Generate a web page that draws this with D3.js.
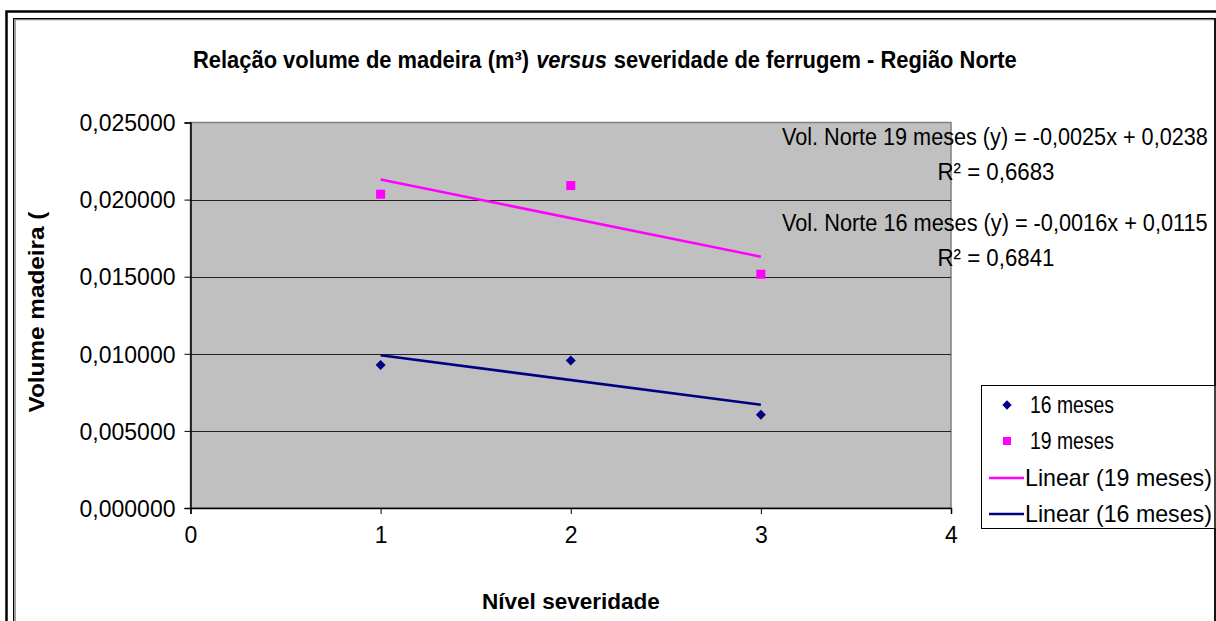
<!DOCTYPE html>
<html>
<head>
<meta charset="utf-8">
<script src="https://cdn.jsdelivr.net/npm/d3@7"></script>
<style>
  html, body { margin: 0; padding: 0; background: #fff; }
  svg { display: block; font-family: "Liberation Sans", Arial, sans-serif; }
</style>
</head>
<body>
<svg id="chart" width="1216" height="621"></svg>
<script>
// Severity levels and wood volume (m³) per age group
const severityLevels = [1, 2, 3];
const volume16 = [0.00928, 0.00956, 0.00605];
const volume19 = [0.02035, 0.02091, 0.01516];

// Linear trend coefficients [slope, intercept] and R²
const trend19 = [-0.0025, 0.0238];
const trend16 = [-0.0016, 0.0115];
const r2_19 = 0.6683;
const r2_16 = 0.6841;

const xTicks = [0, 1, 2, 3, 4];
const yTicks = [0, 0.005, 0.010, 0.015, 0.020, 0.025];
const legendLabels = ["16 meses", "19 meses", "Linear (19 meses)", "Linear (16 meses)"];
const titleParts = [
  { text: "Relação volume de madeira (m³)", italic: false },
  { text: "versus", italic: true },
  { text: "severidade de ferrugem - Região Norte", italic: false }
];

const PINK = "#FF00FF", NAVY = "#000080";
const svg = d3.select("#chart");

// Places a text so that it spans `width` px, narrowing the glyphs horizontally.
// anchor: "start" | "middle"; extra: rotation in degrees.
function fitText(parent, str, px, py, width, opts = {}) {
  const g = parent.append("g");
  const t = g.append("text").attr("x", 0).attr("y", 0)
    .attr("font-size", opts.size || 22)
    .attr("font-weight", opts.bold ? "bold" : "normal")
    .attr("font-style", opts.italic ? "italic" : "normal")
    .attr("fill", "#000").text(str);
  const w = t.node().getComputedTextLength();
  const k = width / w;
  if (opts.anchor === "middle") t.attr("x", -w / 2);
  g.attr("transform", `translate(${px},${py})${opts.rotate ? ` rotate(${opts.rotate})` : ""} scale(${k},1)`);
  return g;
}

// frames
svg.append("rect").attr("x", 6.5).attr("y", 11.5).attr("width", 1240).attr("height", 640)
  .attr("fill", "none").attr("stroke", "#000").attr("stroke-width", 2.5);
svg.append("rect").attr("x", 15).attr("y", 19.5).attr("width", 1200).attr("height", 640)
  .attr("fill", "none").attr("stroke", "#808080").attr("stroke-width", 1.5);
svg.append("rect").attr("x", 13.5).attr("y", 18.5).attr("width", 1201.5).attr("height", 640)
  .attr("fill", "none").attr("stroke", "#000").attr("stroke-width", 1);

const x = d3.scaleLinear().domain([0, 4]).range([190.5, 951]);
const y = d3.scaleLinear().domain([0, 0.025]).range([508, 122.5]);

// plot area
svg.append("rect").attr("x", x(0)).attr("y", y(0.025))
  .attr("width", x(4) - x(0)).attr("height", y(0) - y(0.025))
  .attr("fill", "#C0C0C0").attr("stroke", "#808080").attr("stroke-width", 1.5);

// gridlines
svg.append("g").selectAll("line").data(yTicks.filter(d => d > 0 && d < 0.025)).join("line")
  .attr("x1", x(0)).attr("x2", x(4))
  .attr("y1", d => Math.round(y(d)) + 0.5).attr("y2", d => Math.round(y(d)) + 0.5)
  .attr("stroke", "#222").attr("stroke-width", 1.2);

const fmt = d => d3.format(".6f")(d).replace(".", ",");

// y axis
const yAxis = svg.append("g").attr("transform", `translate(${x(0)},0)`)
  .call(d3.axisLeft(y).tickValues(yTicks).tickSize(6).tickPadding(9).tickFormat(fmt));
yAxis.select(".domain").attr("stroke", "#000").attr("stroke-width", 1.5);
yAxis.selectAll(".tick line").attr("stroke", "#000");
yAxis.selectAll("text").attr("font-size", 23).attr("fill", "#000")
  .attr("font-family", "Liberation Sans, Arial").attr("dy", "0.36em");

// x axis
const xAxis = svg.append("g").attr("transform", `translate(0,${y(0)})`)
  .call(d3.axisBottom(x).tickValues(xTicks).tickSize(6).tickPadding(13).tickFormat(d3.format("d")));
xAxis.select(".domain").attr("stroke", "#000").attr("stroke-width", 1.5);
xAxis.selectAll(".tick line").attr("stroke", "#000");
xAxis.selectAll("text").attr("font-size", 23).attr("fill", "#000")
  .attr("font-family", "Liberation Sans, Arial");

// trend lines
const trendLine = (coef, color) => {
  const pts = [severityLevels[0], severityLevels[severityLevels.length - 1]]
    .map(v => [x(v), y(coef[0] * v + coef[1])]);
  svg.append("path").attr("d", d3.line()(pts))
    .attr("stroke", color).attr("stroke-width", 2.5).attr("fill", "none");
};
trendLine(trend19, PINK);
trendLine(trend16, NAVY);

// markers
const diamond = d3.symbol().type(d3.symbolDiamond2).size(64);
svg.append("g").selectAll("path").data(severityLevels).join("path")
  .attr("d", diamond)
  .attr("transform", (d, i) => `translate(${x(d)},${y(volume16[i])})`)
  .attr("fill", NAVY);
svg.append("g").selectAll("rect").data(severityLevels).join("rect")
  .attr("x", d => x(d) - 4.5).attr("y", (d, i) => y(volume19[i]) - 4.5)
  .attr("width", 9).attr("height", 9).attr("fill", PINK);

// trend equations
const num = v => d3.format(".4f")(Math.abs(v)).replace(".", ",");
const eqText = (name, c) =>
  `Vol. Norte ${name} (y) = ${c[0] < 0 ? "-" : ""}${num(c[0])}x + ${num(c[1])}`;
const eqs = [
  { eq: eqText("19 meses", trend19), r2: r2_19, y: 145 },
  { eq: eqText("16 meses", trend16), r2: r2_16, y: 231 }
];
eqs.forEach(e => {
  fitText(svg, e.eq, 995, e.y, 426, { size: 24, anchor: "middle" });
  fitText(svg, "R² = " + d3.format(".4f")(e.r2).replace(".", ","), 996, e.y + 35, 117,
    { size: 24, anchor: "middle" });
});

// title: parts laid out side by side, condensed to fit the title width
const titleLeft = 193, titleWidth = 824, titleGap = 7;
const probe = titleParts.map(p => {
  const t = svg.append("text").attr("font-size", 23).attr("font-weight", "bold")
    .attr("font-style", p.italic ? "italic" : "normal").text(p.text);
  const w = t.node().getComputedTextLength();
  t.remove();
  return w;
});
const k = (titleWidth - titleGap * (titleParts.length - 1)) / d3.sum(probe);
let cx = titleLeft;
titleParts.forEach((p, i) => {
  const w = probe[i] * k;
  fitText(svg, p.text, cx, 68, w, { size: 23, bold: true, italic: p.italic });
  cx += w + titleGap;
});

// axis titles
fitText(svg, "Nível severidade", 571, 609, 178, { size: 22, bold: true, anchor: "middle" });
fitText(svg, "Volume madeira (", 44, 312, 201, { size: 22, bold: true, anchor: "middle", rotate: -90 });

// legend
const lg = svg.append("g");
lg.append("rect").attr("x", 981.5).attr("y", 385.5).attr("width", 240).attr("height", 143)
  .attr("fill", "#fff").attr("stroke", "#000").attr("stroke-width", 1);
const rowY = [405, 441, 478, 514];
lg.append("path").attr("d", d3.symbol().type(d3.symbolDiamond2).size(56))
  .attr("transform", `translate(1007,${rowY[0]})`).attr("fill", NAVY);
lg.append("rect").attr("x", 1003).attr("y", rowY[1] - 4).attr("width", 8).attr("height", 8).attr("fill", PINK);
lg.append("line").attr("x1", 989).attr("x2", 1024).attr("y1", rowY[2]).attr("y2", rowY[2])
  .attr("stroke", PINK).attr("stroke-width", 2.5);
lg.append("line").attr("x1", 989).attr("x2", 1024).attr("y1", rowY[3]).attr("y2", rowY[3])
  .attr("stroke", NAVY).attr("stroke-width", 2.5);
const legendWidths = [84, 84, 187, 187];
legendLabels.forEach((d, i) => {
  fitText(lg, d, i < 2 ? 1030 : 1025, rowY[i] + 8, legendWidths[i], { size: 23 });
});
// inner frame right edge over legend
svg.append("line").attr("x1", 1215).attr("x2", 1215).attr("y1", 18).attr("y2", 621)
  .attr("stroke", "#000").attr("stroke-width", 1.5);
</script>
</body>
</html>
